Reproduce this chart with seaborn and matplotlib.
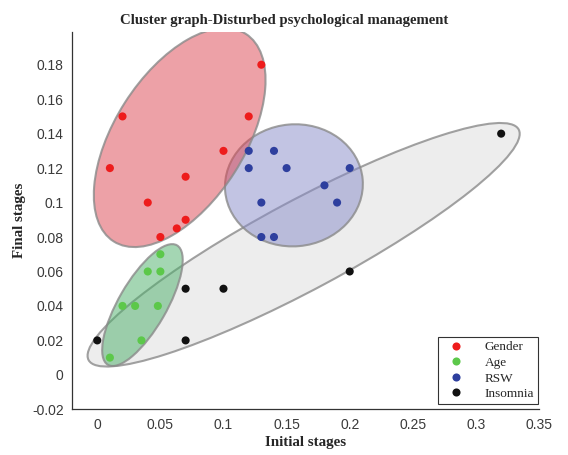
import matplotlib
matplotlib.use("Agg")
import matplotlib.pyplot as plt
import pandas as pd
import seaborn as sns
from matplotlib.patches import Ellipse
from matplotlib.transforms import ScaledTranslation

# values
gender_x = [0.13, 0.12, 0.02, 0.01, 0.10, 0.07, 0.04, 0.07, 0.063, 0.05]
gender_y = [0.18, 0.15, 0.15, 0.12, 0.13, 0.115, 0.10, 0.09, 0.085, 0.08]
age_x = [0.05, 0.04, 0.05, 0.02, 0.03, 0.048, 0.035, 0.01]
age_y = [0.07, 0.06, 0.06, 0.04, 0.04, 0.04, 0.02, 0.01]
rsw_x = [0.12, 0.14, 0.12, 0.15, 0.20, 0.18, 0.19, 0.13, 0.13, 0.14]
rsw_y = [0.13, 0.13, 0.12, 0.12, 0.12, 0.11, 0.10, 0.10, 0.08, 0.08]
insomnia_x = [0.0, 0.07, 0.10, 0.07, 0.32, 0.20]
insomnia_y = [0.02, 0.05, 0.05, 0.02, 0.14, 0.06]

groups = ["Gender", "Age", "RSW", "Insomnia"]
point_colors = ["#ee1c1c", "#5cc84a", "#2e3f9e", "#111111"]

x_ticks = [0, 0.05, 0.1, 0.15, 0.2, 0.25, 0.3, 0.35]
x_tick_labels = ["0", "0.05", "0.1", "0.15", "0.2", "0.25", "0.3", "0.35"]
y_ticks = [-0.02, 0, 0.02, 0.04, 0.06, 0.08, 0.1, 0.12, 0.14, 0.16, 0.18]
y_tick_labels = ["-0.02", "0", "0.02", "0.04", "0.06", "0.08", "0.1",
                 "0.12", "0.14", "0.16", "0.18"]

# cluster outlines: centre in data units, width/height in inches, screen angle
outlines = [
    ("Insomnia", 0.1635, 0.0755, 4.88, 0.89, 28.2, "#dddddd"),
    ("Age", 0.0358, 0.0405, 1.38, 0.48, 60.0, "#4baf69"),
    ("RSW", 0.1558, 0.1100, 1.38, 1.22, 5.0, "#878bc9"),
    ("Gender", 0.0653, 0.1377, 2.46, 1.30, 57.5, "#dd4551"),
]

df = pd.concat([
    pd.DataFrame({"x": gender_x, "y": gender_y, "group": "Gender"}),
    pd.DataFrame({"x": age_x, "y": age_y, "group": "Age"}),
    pd.DataFrame({"x": rsw_x, "y": rsw_y, "group": "RSW"}),
    pd.DataFrame({"x": insomnia_x, "y": insomnia_y, "group": "Insomnia"}),
], ignore_index=True)

sns.set_style("white")
fig = plt.figure(figsize=(5.68, 4.55), dpi=100)
ax = fig.add_axes([0.1268, 0.1004, 0.8222, 0.8293])

for name, cx, cy, w, h, ang, face in outlines:
    e = Ellipse((0, 0), w, h, angle=ang, facecolor=face, alpha=0.5,
                edgecolor="none",
                transform=fig.dpi_scale_trans + ScaledTranslation(cx, cy, ax.transData))
    ax.add_patch(e)
    edge = Ellipse((0, 0), w, h, angle=ang, facecolor="none", edgecolor="#8a8a8a",
                   linewidth=1.5, alpha=0.8,
                   transform=fig.dpi_scale_trans + ScaledTranslation(cx, cy, ax.transData))
    ax.add_patch(edge)

sns.scatterplot(data=df, x="x", y="y", hue="group", hue_order=groups,
                palette=point_colors, s=34, edgecolor="none", ax=ax, zorder=3)

ax.set_xlim(-0.02, 0.35)
ax.set_ylim(-0.02, 0.199)
ax.set_xticks(x_ticks)
ax.set_xticklabels(x_tick_labels, family="Liberation Sans", fontsize=10, color="#3a3a3a")
ax.set_yticks(y_ticks)
ax.set_yticklabels(y_tick_labels, family="Liberation Sans", fontsize=10, color="#3a3a3a")
ax.tick_params(direction="in", length=4, width=0.8, color="#333333", pad=6)
for side in ["top", "right"]:
    ax.spines[side].set_visible(False)
for side in ["left", "bottom"]:
    ax.spines[side].set_color("#333333")
    ax.spines[side].set_linewidth(0.9)

ax.set_xlabel("Initial stages", family="Liberation Serif", fontweight="bold",
              fontsize=10.8, labelpad=3)
ax.set_ylabel("Final stages", family="Liberation Serif", fontweight="bold", fontsize=10.8)
fig.suptitle("Cluster graph-Disturbed psychological management", x=0.5, y=0.956,
             va="center", family="Liberation Serif", fontweight="bold", fontsize=10.6)

handles, labels = ax.get_legend_handles_labels()
leg = ax.legend(handles, labels, loc="lower right", bbox_to_anchor=(0.998, 0.014),
                borderaxespad=0, frameon=True, fancybox=False, edgecolor="black",
                prop={"family": "Liberation Serif", "size": 9.5}, labelspacing=0.25,
                handletextpad=1.2, borderpad=0.3, markerscale=1.0)
leg.get_frame().set_linewidth(0.8)

plt.savefig("out.png", dpi=100)
plt.close()
